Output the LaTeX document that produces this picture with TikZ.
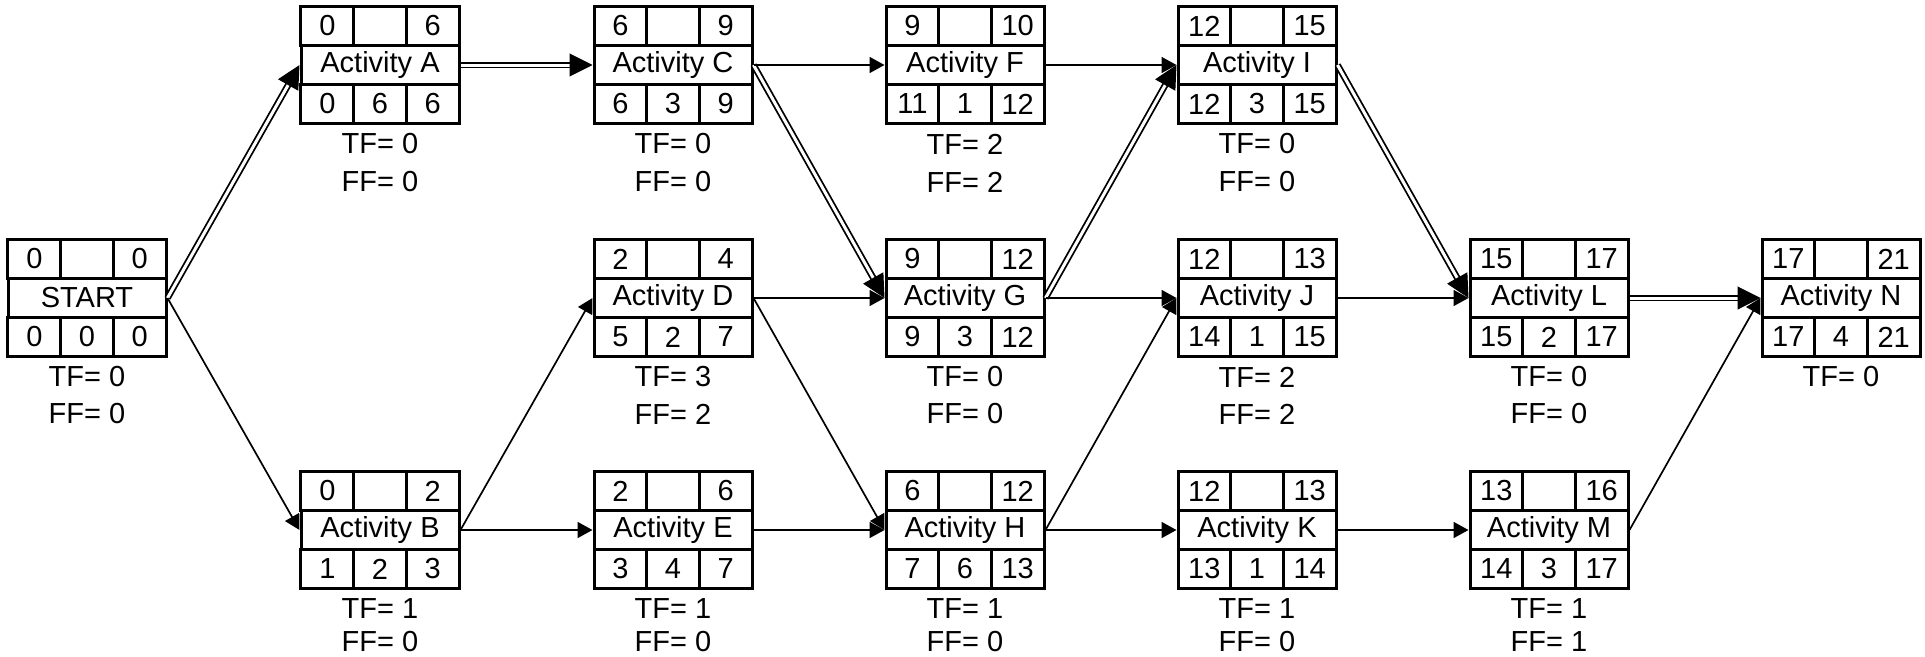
\documentclass[tikz,border=0pt]{standalone}
\usepackage{fontspec}
\setmainfont{Liberation Sans}
\usetikzlibrary{arrows.meta,calc}
\begin{document}
\begin{tikzpicture}[x=1pt,y=1pt,
  every node/.style={font=\fontsize{29}{32}\selectfont, inner sep=0pt},
  cellbox/.style={draw, line width=3pt, minimum width=52.67pt, minimum height=39pt},
  midbox/.style={draw, line width=3pt, minimum width=158pt, minimum height=39pt},
  flow/.style={line width=1.7pt, -{Triangle[length=15pt,width=16pt]}},
  crit/.style={line width=1.8pt, double, double distance=3pt},
  crithead/.style={line width=1pt, -{Triangle[length=23pt,width=23pt]}},
  note/.style={}]
\useasboundingbox (0,0) rectangle (1925,-656);

\foreach \n/\x/\y/\lab/\es/\ef/\ls/\du/\lf in {
  START/87/-298/START/0/0/0/0/0,
  A/380/-65/Activity A/0/6/0/6/6,
  B/380/-530/Activity B/0/2/1/2/3,
  C/673/-65/Activity C/6/9/6/3/9,
  D/673/-298/Activity D/2/4/5/2/7,
  E/673/-530/Activity E/2/6/3/4/7,
  F/965/-65/Activity F/9/10/11/1/12,
  G/965/-298/Activity G/9/12/9/3/12,
  H/965/-530/Activity H/6/12/7/6/13,
  I/1257/-65/Activity I/12/15/12/3/15,
  J/1257/-298/Activity J/12/13/14/1/15,
  K/1257/-530/Activity K/12/13/13/1/14,
  L/1549/-298/Activity L/15/17/15/2/17,
  M/1549/-530/Activity M/13/16/14/3/17,
  N/1841/-298/Activity N/17/21/17/4/21}{
  \node[midbox] (\n) at (\x,\y) {\lab};
  \node[cellbox] (\n-es) at (\x-52.67,\y+39) {\es};
  \node[cellbox] (\n-sp) at (\x,\y+39) {};
  \node[cellbox] (\n-ef) at (\x+52.67,\y+39) {\ef};
  \node[cellbox] (\n-ls) at (\x-52.67,\y-39) {\ls};
  \node[cellbox] (\n-du) at (\x,\y-39) {\du};
  \node[cellbox] (\n-lf) at (\x+52.67,\y-39) {\lf};
}

\foreach \n/\tf/\ff/\d in {START/0/0/116, A/0/0/117, B/1/0/112, C/0/0/117,
  D/3/2/116, E/1/0/112, F/2/2/117, G/0/0/116, H/1/0/112, I/0/0/117,
  J/2/2/116, K/1/0/112, L/0/0/116, M/1/1/112}{
  \node[note] (\n-tf) at ($(\n.center)+(0,-79)$) {TF= \tf};
  \node[note] (\n-ff) at ($(\n.center)+(0,-\d)$) {FF= \ff};
}
\node[note] (N-tf) at ($(N.center)+(0,-79)$) {TF= 0};

% critical (double) connectors
\foreach \s/\t in {START/A, A/C, C/G, G/I, I/L, L/N}{
  \draw[crit] (\s.east) -- ($(\t.west)!21pt!(\s.east)$);
  \draw[crithead] ($(\t.west)!23pt!(\s.east)$) -- (\t.west);
}

% ordinary connectors
\foreach \s/\t in {START/B, B/D, B/E, C/F, D/G, D/H, E/H, F/I, G/J,
  H/J, H/K, J/L, K/M, M/N}{
  \draw[flow] (\s.east) -- (\t.west);
}
\end{tikzpicture}
\end{document}
